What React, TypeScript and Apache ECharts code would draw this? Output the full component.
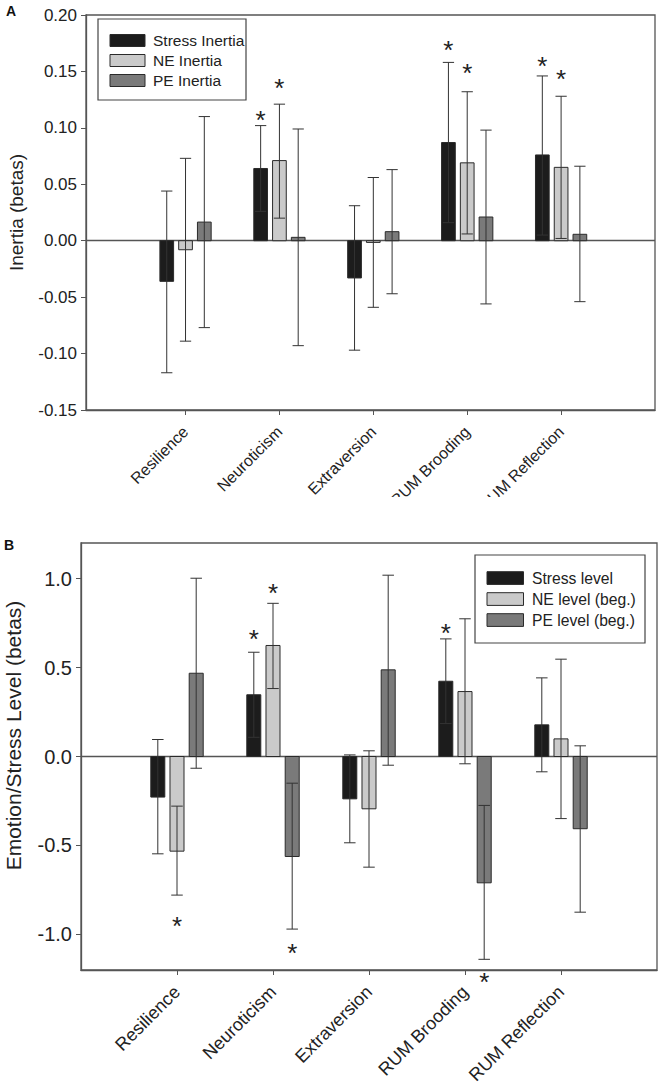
import React, { useEffect, useRef } from "react";
import * as echarts from "echarts";

const categories = ["Resilience", "Neuroticism", "Extraversion", "RUM Brooding", "RUM Reflection"];
const categoryPositions = [0, 1, 2, 3, 4];

// Panel A: inertia
const inertiaNames = ["Stress Inertia", "NE Inertia", "PE Inertia"];
const stressInertia = [-0.036, 0.064, -0.033, 0.087, 0.076];
const stressInertiaLow = [-0.117, 0.026, -0.097, 0.016, 0.005];
const stressInertiaHigh = [0.044, 0.102, 0.031, 0.158, 0.146];
const neInertia = [-0.008, 0.071, -0.0015, 0.069, 0.065];
const neInertiaLow = [-0.089, 0.02, -0.059, 0.006, 0.002];
const neInertiaHigh = [0.073, 0.121, 0.056, 0.132, 0.128];
const peInertia = [0.0165, 0.003, 0.008, 0.021, 0.0057];
const peInertiaLow = [-0.077, -0.093, -0.047, -0.056, -0.054];
const peInertiaHigh = [0.11, 0.099, 0.063, 0.098, 0.066];
const inertiaTicks = [-0.15, -0.1, -0.05, 0, 0.05, 0.1, 0.15, 0.2];
// significance markers: [category, series, y]
const inertiaStars = [
  [1, 0, 0.1127],
  [1, 1, 0.1413],
  [3, 0, 0.1747],
  [3, 1, 0.1546],
  [4, 0, 0.1608],
  [4, 1, 0.149],
];

// Panel B: levels
const levelNames = ["Stress level", "NE level (beg.)", "PE level (beg.)"];
const stressLevel = [-0.228, 0.347, -0.238, 0.423, 0.178];
const stressLevelLow = [-0.547, 0.108, -0.485, 0.185, -0.086];
const stressLevelHigh = [0.0955, 0.586, 0.009, 0.661, 0.442];
const neLevel = [-0.532, 0.624, -0.294, 0.365, 0.099];
const neLevelLow = [-0.779, 0.382, -0.622, -0.041, -0.349];
const neLevelHigh = [-0.279, 0.861, 0.032, 0.774, 0.547];
const peLevel = [0.468, -0.562, 0.487, -0.71, -0.406];
const peLevelLow = [-0.066, -0.97, -0.049, -1.14, -0.875];
const peLevelHigh = [1.002, -0.15, 1.019, -0.275, 0.06];
const levelTicks = [-1.0, -0.5, 0.0, 0.5, 1.0];
const levelStars = [
  [1, 0, 0.695],
  [1, 1, 0.953],
  [3, 0, 0.732],
  [0, 1, -0.916],
  [1, 2, -1.066],
  [3, 2, -1.23],
];

const FILLS = ["#1c1c1c", "#cacaca", "#7a7a7a"];
const OFFSETS = [-0.2, 0, 0.2];
const FONT = "'Liberation Sans', Arial, Helvetica, sans-serif";
const AXIS_COLOR = "#555";
const TEXT_COLOR = "#222";

function makeRows(vals: number[], lo: number[], hi: number[]) {
  return categoryPositions.map((c, i) => [c, vals[i], lo[i], hi[i]]);
}

function barRenderer(offset: number, fill: string) {
  const halfW = 0.073;
  const capHalf = 0.06;
  return (params: any, api: any) => {
    const x = api.value(0) + offset;
    const v = api.value(1);
    const lo = api.value(2);
    const hi = api.value(3);
    const a = api.coord([x - halfW, v]);
    const b = api.coord([x + halfW, 0]);
    const top = api.coord([x, hi]);
    const bot = api.coord([x, lo]);
    const cl = api.coord([x - capHalf, hi])[0];
    const cr = api.coord([x + capHalf, hi])[0];
    const errStyle = { stroke: "#333", lineWidth: 1 };
    return {
      type: "group",
      children: [
        {
          type: "rect",
          shape: {
            x: Math.min(a[0], b[0]),
            y: Math.min(a[1], b[1]),
            width: Math.abs(b[0] - a[0]),
            height: Math.abs(b[1] - a[1]),
          },
          style: { fill, stroke: "#2a2a2a", lineWidth: 1 },
        },
        { type: "line", shape: { x1: top[0], y1: top[1], x2: bot[0], y2: bot[1] }, style: errStyle },
        { type: "line", shape: { x1: cl, y1: top[1], x2: cr, y2: top[1] }, style: errStyle },
        { type: "line", shape: { x1: cl, y1: bot[1], x2: cr, y2: bot[1] }, style: errStyle },
      ],
    };
  };
}

function starRenderer(fontSize: number) {
  return (params: any, api: any) => {
    const s = api.value(1);
    const p = api.coord([api.value(0) + OFFSETS[s], api.value(2)]);
    return {
      type: "text",
      x: p[0],
      y: p[1] + fontSize * 0.25,
      style: {
        text: "*",
        fontSize,
        fontFamily: FONT,
        fill: TEXT_COLOR,
        align: "center",
        verticalAlign: "middle",
      },
    };
  };
}

function legendGraphic(names: string[], L: any) {
  const children: any[] = [
    {
      type: "rect",
      shape: { x: L.x, y: L.y, width: L.w, height: L.h },
      style: { fill: "#fff", stroke: "#444", lineWidth: 1.2 },
      z: 10,
    },
  ];
  names.forEach((n, i) => {
    const sy = L.rowY + i * L.pitch;
    children.push({
      type: "rect",
      shape: { x: L.swX, y: sy, width: L.swW, height: L.swH },
      style: { fill: FILLS[i], stroke: "#2a2a2a", lineWidth: 1 },
      z: 11,
    });
    children.push({
      type: "text",
      x: L.textX,
      y: sy + L.swH / 2,
      style: {
        text: n,
        fontSize: L.font,
        fontFamily: FONT,
        fill: TEXT_COLOR,
        align: "left",
        verticalAlign: "middle",
      },
      z: 11,
    });
  });
  return children;
}

function buildOption(cfg: any) {
  const seriesData = [
    makeRows(cfg.s[0], cfg.s[1], cfg.s[2]),
    makeRows(cfg.n[0], cfg.n[1], cfg.n[2]),
    makeRows(cfg.p[0], cfg.p[1], cfg.p[2]),
  ];
  const series: any[] = seriesData.map((d, i) => ({
    type: "custom",
    name: cfg.names[i],
    data: d,
    itemStyle: { color: FILLS[i], borderColor: "#2a2a2a", borderWidth: 1 },
    renderItem: barRenderer(OFFSETS[i], FILLS[i]),
    clip: false,
    z: 3,
  }));
  series[0].markLine = {
    silent: true,
    symbol: "none",
    label: { show: false },
    lineStyle: { color: AXIS_COLOR, width: 1.3, type: "solid" },
    data: [{ yAxis: 0 }],
    z: 2,
  };
  series.push({
    type: "custom",
    name: "sig",
    data: cfg.stars,
    renderItem: starRenderer(cfg.starSize),
    clip: false,
    z: 5,
  });
  return {
    animation: false,
    backgroundColor: "#fff",
    textStyle: { fontFamily: FONT },
    grid: {
      left: cfg.grid.left,
      right: cfg.grid.right,
      top: cfg.grid.top,
      bottom: cfg.grid.bottom,
      outerBoundsMode: "none",
      containLabel: false,
      show: true,
      borderColor: AXIS_COLOR,
      borderWidth: 1.3,
      backgroundColor: "transparent",
    },
    xAxis: {
      type: "value",
      min: cfg.xMin,
      max: cfg.xMax,
      splitLine: { show: false },
      axisLine: { onZero: false, lineStyle: { color: AXIS_COLOR, width: 1.3 } },
      axisTick: { customValues: categoryPositions, length: 5, lineStyle: { color: AXIS_COLOR } },
      axisLabel: {
        customValues: categoryPositions,
        formatter: (v: number) => categories[Math.round(v)] ?? "",
        rotate: 45,
        margin: 19,
        fontSize: cfg.xFont,
        color: TEXT_COLOR,
        fontFamily: FONT,
      },
    },
    yAxis: {
      type: "value",
      min: cfg.yMin,
      max: cfg.yMax,
      splitLine: { show: false },
      axisLine: { show: true, onZero: false, lineStyle: { color: AXIS_COLOR, width: 1.3 } },
      axisTick: { show: true, customValues: cfg.ticks, length: 5, lineStyle: { color: AXIS_COLOR } },
      axisLabel: {
        customValues: cfg.ticks,
        formatter: (v: number) => v.toFixed(cfg.decimals),
        margin: 9,
        fontSize: cfg.yFont,
        color: TEXT_COLOR,
        fontFamily: FONT,
      },
      name: cfg.yName,
      nameLocation: "middle",
      nameRotate: 90,
      nameGap: cfg.nameGap,
      nameTextStyle: { fontSize: cfg.nameFont, color: TEXT_COLOR, fontFamily: FONT, padding: cfg.namePadding },
    },
    graphic: [
      {
        type: "text",
        left: cfg.panel.x,
        top: cfg.panel.y,
        style: { text: cfg.panel.text, fontSize: 14, fontWeight: "bold", fill: "#111", fontFamily: FONT },
      },
      ...legendGraphic(cfg.names, cfg.legend),
    ],
    series,
  };
}

const cfgA = {
  names: inertiaNames,
  s: [stressInertia, stressInertiaLow, stressInertiaHigh],
  n: [neInertia, neInertiaLow, neInertiaHigh],
  p: [peInertia, peInertiaLow, peInertiaHigh],
  stars: inertiaStars,
  starSize: 26,
  grid: { left: 86, right: 6, top: 15, bottom: 87 },
  legend: { x: 98, y: 19, w: 148, h: 81, swX: 110, swW: 35, swH: 12, rowY: 34.5, pitch: 20, textX: 153, font: 15.5 },
  xMin: -1.06,
  xMax: 5.0,
  xFont: 16,
  yMin: -0.15,
  yMax: 0.2,
  ticks: inertiaTicks,
  decimals: 2,
  yFont: 17,
  yName: "Inertia (betas)",
  nameGap: 60,
  nameFont: 19,
  namePadding: [0, 0, 0, 0],
  panel: { text: "A", x: 6, y: 4 },
};

const cfgB = {
  names: levelNames,
  s: [stressLevel, stressLevelLow, stressLevelHigh],
  n: [neLevel, neLevelLow, neLevelHigh],
  p: [peLevel, peLevelLow, peLevelHigh],
  stars: levelStars,
  starSize: 26,
  grid: { left: 81, right: 4, top: 46, bottom: 116 },
  legend: { x: 475, y: 58, w: 170, h: 88, swX: 487, swW: 36.5, swH: 12.7, rowY: 74.7, pitch: 21, textX: 532, font: 15.7 },
  xMin: -1,
  xMax: 5,
  xFont: 18,
  yMin: -1.2,
  yMax: 1.2,
  ticks: levelTicks,
  decimals: 1,
  yFont: 20,
  yName: "Emotion/Stress Level (betas)",
  nameGap: 57,
  nameFont: 21,
  namePadding: [0, 0, 0, 42],
  panel: { text: "B", x: 4, y: 41 },
};

function Chart({ cfg, top, height }: { cfg: any; top: number; height: number }) {
  const ref = useRef<HTMLDivElement>(null);
  useEffect(() => {
    if (!ref.current) return;
    const chart = echarts.init(ref.current, undefined, { renderer: "svg" });
    chart.setOption(buildOption(cfg));
    return () => chart.dispose();
  }, [cfg]);
  return (
    <div
      ref={ref}
      style={{ position: "absolute", left: 0, top, width: 661, height, overflow: "hidden" }}
    />
  );
}

export default function App() {
  return (
    <div style={{ position: "absolute", left: 0, top: 0, width: 661, height: 1086, background: "#fff" }}>
      <Chart cfg={cfgA} top={0} height={497} />
      <Chart cfg={cfgB} top={497} height={589} />
    </div>
  );
}
